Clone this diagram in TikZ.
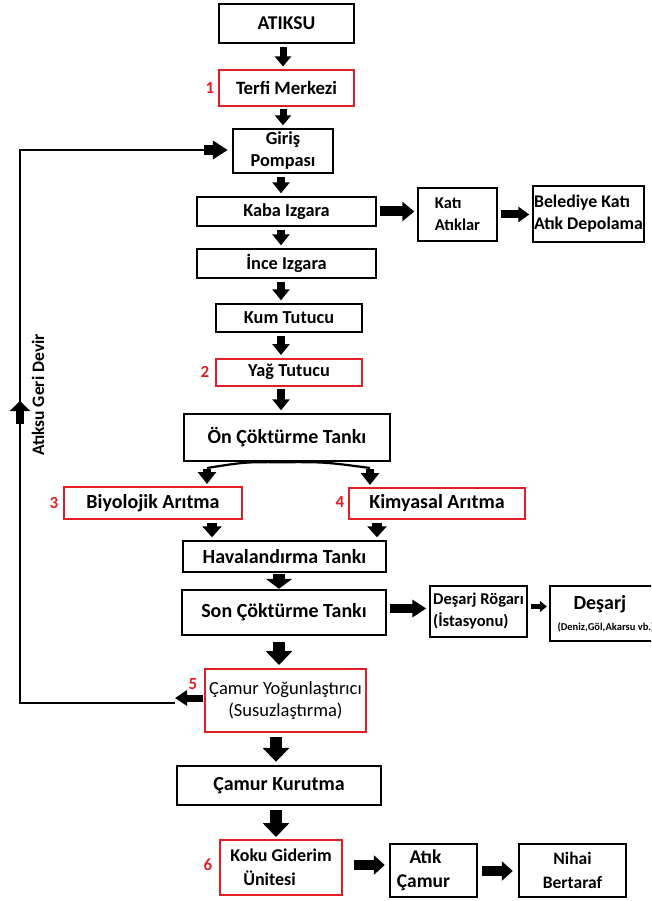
\documentclass[tikz,border=0pt]{standalone}
\usepackage{fontspec}
\setmainfont{Carlito}
\usetikzlibrary{arrows.meta}
\definecolor{boxred}{RGB}{228,30,38}
\begin{document}
\begin{tikzpicture}[x=1pt,y=-1pt,
  box/.style={draw=black, line width=2.4pt, inner sep=0pt, align=center,
    font=\bfseries\fontsize{18.3}{22}\selectfont},
  rbox/.style={box, draw=boxred, line width=2pt},
  bigtxt/.style={font=\bfseries\fontsize{20}{24}\selectfont},
  num/.style={text=boxred, inner sep=0pt, font=\bfseries\fontsize{17}{20}\selectfont},
  arr/.style n args={3}{line width=#1, -{Triangle[width=#2,length=#3]}},
  gap/.style={shorten <=2.5pt, shorten >=2.5pt},
  fbline/.style={line width=2.6pt}
]
\clip (0,0) rectangle (651,901);
\fill[white] (0,0) rectangle (651,901);

% ---- main column ----
\node[box, font=\bfseries\fontsize{19.5}{22}\selectfont, minimum width=135pt, minimum height=39pt] (atiksu) at (286.5,23.5) {ATIKSU};
\node[rbox, font=\bfseries\fontsize{18.8}{22}\selectfont, minimum width=135pt, minimum height=36pt] (terfi) at (286.5,88) {Terfi Merkezi};
\node[box, minimum width=100pt, minimum height=44pt] (giris) at (283,151) {Giriş\\Pompası};
\node[box, minimum width=179pt, minimum height=29pt] (kaba) at (286.5,211.5) {Kaba Izgara};
\node[box, minimum width=179pt, minimum height=29pt] (ince) at (286.5,263.5) {İnce Izgara};
\node[box, minimum width=146pt, minimum height=28pt] (kum) at (289,318) {Kum Tutucu};
\node[rbox, minimum width=146pt, minimum height=27pt] (yag) at (289,372) {Yağ Tutucu};
\node[box, bigtxt, minimum width=206pt, minimum height=47pt] (on) at (287,437.5) {Ön Çöktürme Tankı};
\node[rbox, bigtxt, minimum width=178pt, minimum height=32pt] (biyo) at (153,503) {Biyolojik Arıtma};
\node[rbox, bigtxt, minimum width=176pt, minimum height=31pt] (kim) at (437,503.5) {Kimyasal Arıtma};
\node[box, bigtxt, minimum width=203pt, minimum height=31pt] (hava) at (284.5,556.5) {Havalandırma Tankı};
\node[box, bigtxt, minimum width=204pt, minimum height=45pt] (son) at (284,612.5) {Son Çöktürme Tankı};
\node[rbox, font=\fontsize{18.5}{22}\selectfont, minimum width=161pt, minimum height=63pt] (camury) at (285.5,700.5) {Çamur Yoğunlaştırıcı\\(Susuzlaştırma)};
\node[box, bigtxt, minimum width=204pt, minimum height=39pt] (camurk) at (279,785.5) {Çamur Kurutma};
\node[rbox, font=\bfseries\fontsize{18}{24}\selectfont, align=left, minimum width=122pt, minimum height=55pt] (koku) at (281,867.5) {Koku Giderim\\\hspace*{13pt}Ünitesi};

% ---- side boxes ----
\node[box, font=\bfseries\fontsize{16.5}{22}\selectfont, align=left, minimum width=79pt, minimum height=53pt] (kati) at (457.5,214.5) {Katı\\Atıklar};
\node[box, font=\bfseries\fontsize{17.8}{22}\selectfont, align=left, minimum width=111pt, minimum height=56pt] (bel) at (588.5,214) {Belediye Katı\\Atık Depolama};
\node[box, font=\bfseries\fontsize{16.5}{22}\selectfont, align=left, minimum width=97pt, minimum height=51pt] (desr) at (478.5,611.5) {Deşarj Rögarı\\(İstasyonu)};
\node[box, align=left, minimum width=112pt, minimum height=55pt] (desarj) at (606,613.5) {\hspace*{16pt}{\fontsize{20}{22}\selectfont Deşarj}\\[-1pt]{\fontsize{10.5}{12}\selectfont (Deniz,Göl,Akarsu vb.)}};
\node[box, font=\bfseries\fontsize{19.5}{24}\selectfont, minimum width=87pt, minimum height=53pt] (atik) at (433.5,870.5) {\hspace*{-16pt}Atık\\\hspace*{-20pt}Çamur};
\node[box, font=\bfseries\fontsize{17.5}{24}\selectfont, minimum width=107pt, minimum height=53pt] (nihai) at (572.5,870.5) {Nihai\\Bertaraf};

% ---- red numbers ----
\node[num] (n1) at (210,88) {1};
\node[num] (n2) at (205,372) {2};
\node[num] (n3) at (54,503) {3};
\node[num] (n4) at (340,502) {4};
\node[num] (n5) at (193,684) {5};
\node[num] (n6) at (208,865) {6};

% ---- vertical arrow axes ----
\coordinate (ax1) at (283,0);
\coordinate (ax2) at (281,0);
\coordinate (ax3) at (279,0);
\coordinate (ax4) at (276,0);
\coordinate (axl) at (207,0);
\coordinate (axr) at (370,0);
\coordinate (axbl) at (212,0);
\coordinate (axbr) at (377,0);

\draw[arr={7pt}{16pt}{10pt}, gap] (atiksu.south -| ax1) -- (terfi.north -| ax1);
\draw[arr={7pt}{16pt}{10pt}, gap] (terfi.south -| ax1) -- (giris.north -| ax1);
\draw[arr={8pt}{17pt}{11pt}, gap] (giris.south -| ax2) -- (kaba.north -| ax2);
\draw[arr={8pt}{17pt}{11pt}, gap] (kaba.south -| ax2) -- (ince.north -| ax2);
\draw[arr={8pt}{17pt}{11pt}, gap] (ince.south -| ax2) -- (kum.north -| ax2);
\draw[arr={8pt}{17pt}{11pt}, gap] (kum.south -| ax2) -- (yag.north -| ax2);
\draw[arr={8pt}{17pt}{11pt}, gap] (yag.south -| ax2) -- (on.north -| ax2);

% split from Ön Çöktürme
\coordinate (onb) at (on.south -| ax2);
\coordinate (sl) at (207,468);
\coordinate (sr) at (370,468);
\draw[line width=2.2pt] (onb) .. controls (245,462) .. (sl);
\draw[line width=2.2pt] (onb) .. controls (325,462) .. (sr);
\draw[arr={8pt}{18pt}{12pt}, shorten >=2pt] ([yshift=-1pt]sl) -- (biyo.north -| axl);
\draw[arr={8pt}{18pt}{12pt}, shorten >=2pt] ([yshift=-1pt]sr) -- (kim.north -| axr);

\draw[arr={10pt}{19pt}{11pt}, gap] (biyo.south -| axbl) -- (hava.north -| axbl);
\draw[arr={10pt}{19pt}{11pt}, gap] (kim.south -| axbr) -- (hava.north -| axbr);

\draw[arr={12pt}{26pt}{10pt}, shorten <=1pt] (hava.south -| ax3) -- (son.north -| ax3);
\draw[arr={12pt}{26pt}{14pt}, shorten <=6pt, shorten >=3pt] (son.south -| ax3) -- (camury.north -| ax3);
\draw[arr={12pt}{26pt}{14pt}, shorten <=4pt, shorten >=3pt] (camury.south -| ax4) -- (camurk.north -| ax4);
\draw[arr={12pt}{26pt}{14pt}, shorten <=4pt, shorten >=2pt] (camurk.south -| ax4) -- (koku.north -| ax4);

% ---- horizontal arrows ----
\draw[arr={10pt}{19pt}{12pt}, gap] (kaba.east) -- (kaba.east -| kati.west);
\draw[arr={8pt}{15pt}{11pt}, gap] (kati.east) -- (kati.east -| bel.west);
\draw[arr={9pt}{17pt}{14pt}, gap] ([yshift=4pt]son.east) -- ([yshift=4pt]son.east -| desr.west);
\draw[arr={5pt}{11pt}{7pt}, shorten <=3pt, shorten >=2pt] ([yshift=5pt]desr.east) -- ([yshift=5pt]desr.east -| desarj.west);
\draw[arr={10pt}{19pt}{11pt}, shorten <=11pt, shorten >=4pt] ([yshift=2.5pt]koku.east) -- ([yshift=2.5pt]koku.east -| atik.west);
\draw[arr={10pt}{19pt}{11pt}, shorten <=4pt, shorten >=5pt] ([yshift=-0.5pt]atik.east) -- ([yshift=-0.5pt]atik.east -| nihai.west);

% ---- feedback loop ----
\coordinate (fbs) at (175,703);
\coordinate (fbc1) at (20,703);
\coordinate (fbc2) at (20,150);
\coordinate (fbe) at (206,150);
\coordinate (upa) at (20,424);
\coordinate (upb) at (20,401);
\draw[fbline] (fbs) -- (fbc1) -- (fbc2) -- (fbe);
\draw[arr={7pt}{15pt}{12pt}, shorten <=1pt] ([yshift=2.5pt]camury.west) -- ([yshift=2.5pt]camury.west -| fbs);
\draw[arr={10pt}{18pt}{15pt}, shorten >=4pt] ([xshift=-2pt]fbe) -- (giris.west |- fbe);
\draw[arr={8pt}{20pt}{10pt}] (upa) -- (upb);
\node[rotate=90, inner sep=0pt, font=\bfseries\fontsize{17.5}{20}\selectfont] (geri) at (38,395) {Atıksu Geri Devir};
\end{tikzpicture}
\end{document}
